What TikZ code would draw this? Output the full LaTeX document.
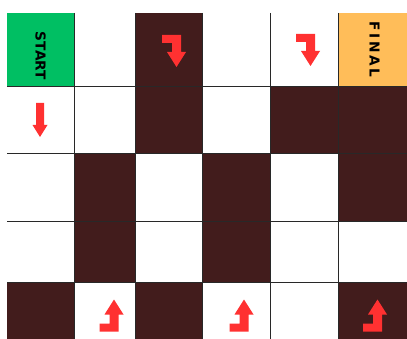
\documentclass[tikz,border=0pt]{standalone}
\usepackage{fontspec}
\newfontfamily\labfont{DejaVu Sans}
\newfontfamily\labwide[LetterSpace=18]{DejaVu Sans}
\definecolor{cellgreen}{RGB}{0,191,99}
\definecolor{cellorange}{RGB}{255,189,89}
\definecolor{celldark}{RGB}{66,28,28}
\definecolor{arrowred}{RGB}{255,49,49}
\definecolor{gridgray}{RGB}{40,40,40}
\tikzset{
  darkcell/.style={fill=celldark},
  gridline/.style={draw=gridgray,line width=0.8pt},
  lbl/.style={font=\labfont\bfseries\fontsize{13.7}{14}\selectfont,text=black,rotate=-90,inner sep=0pt},
  bentarrow/.pic={
    \fill[arrowred] (-12,-16) -- (7,-16) -- (7,1) -- (12,1) -- (2.5,16) -- (-7,1) -- (-2,1) -- (-2,-8) -- (-12,-8) -- cycle;
  }
}
\begin{document}
\begin{tikzpicture}[x=1pt,y=-1pt]
\useasboundingbox (0,0) rectangle (407,339);
\fill[white] (0,0) rectangle (407,339);
% special cells
\fill[cellgreen] (7,13) rectangle (74,86);
\fill[cellorange] (338,13) rectangle (407,86);
% dark cells
\fill[darkcell] (135,13) rectangle (202,86);
\fill[darkcell] (135,86) rectangle (202,153);
\fill[darkcell] (270,86) rectangle (338,153);
\fill[darkcell] (338,86) rectangle (407,153);
\fill[darkcell] (74,153) rectangle (135,221);
\fill[darkcell] (202,153) rectangle (270,221);
\fill[darkcell] (338,153) rectangle (407,221);
\fill[darkcell] (74,221) rectangle (135,282);
\fill[darkcell] (202,221) rectangle (270,282);
\fill[darkcell] (7,282) rectangle (74,339);
\fill[darkcell] (135,282) rectangle (202,339);
\fill[darkcell] (338,282) rectangle (407,339);
% grid lines
\foreach \y in {86,153,221,282} \draw[gridline] (7,\y) -- (407,\y);
\foreach \x in {74,135,202,270,338} \draw[gridline] (\x,13) -- (\x,339);
% labels
\node[lbl] (start) at (40.5,56) {START};
\node[lbl,font=\labwide\bfseries\fontsize{13.7}{14}\selectfont] (final) at (374.5,49.5) {FINAL};
% arrows
\fill[arrowred] (36,103) -- (44,103) -- (44,125) -- (47.5,125) -- (40,137) -- (32.5,125) -- (36,125) -- cycle;
\pic at (174,51) {bentarrow};
\pic at (308,50) {bentarrow};
\pic[yscale=-1] at (111.5,315.5) {bentarrow};
\pic[yscale=-1] at (241.5,315.5) {bentarrow};
\pic[yscale=-1] at (375,315.5) {bentarrow};
\end{tikzpicture}
\end{document}
